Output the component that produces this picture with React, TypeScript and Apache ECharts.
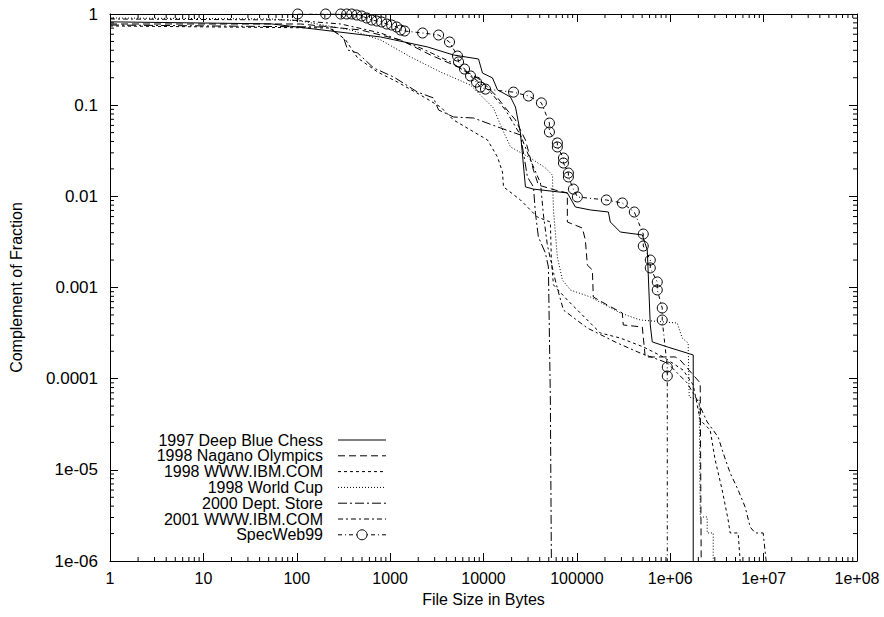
import React, { useEffect, useRef } from "react";
import * as echarts from "echarts";

const FONT = "'Liberation Sans', Arial, Helvetica, sans-serif";

const seriesNames = [
  "1997 Deep Blue Chess",
  "1998 Nagano Olympics",
  "1998 WWW.IBM.COM",
  "1998 World Cup",
  "2000 Dept. Store",
  "2001 WWW.IBM.COM",
  "SpecWeb99",
];

const xTickLabels = ["1", "10", "100", "1000", "10000", "100000", "1e+06", "1e+07", "1e+08"];
const yTickLabels = ["1e-06", "1e-05", "0.0001", "0.001", "0.01", "0.1", "1"];

const deepBlueX = [1, 52.7, 791, 2518, 4777, 8846, 9753, 12480, 14120, 19450, 21990, 24870, 28130, 34270, 79070, 96400, 139400, 217300, 228000, 291800, 502000, 567500, 611200, 641700, 929500, 1762000, 1762000];
const deepBlueY = [0.82, 0.78, 0.56, 0.435, 0.355, 0.321, 0.225, 0.199, 0.147, 0.123, 0.0955, 0.0495, 0.0127, 0.012, 0.0109, 0.00764, 0.00709, 0.00673, 0.00523, 0.00406, 0.00377, 0.00258, 0.000388, 0.000253, 0.000223, 0.000182, 0.000001];

const naganoX = [1, 110, 483, 1295, 2712, 5675, 9290, 13430, 17180, 21990, 24870, 28130, 34270, 38730, 58880, 79070, 79070, 114500, 123300, 129500, 146500, 150000, 211800, 306800, 314200, 502000, 539500, 1130000, 1279000, 2094000, 2145000];
const naganoY = [0.777, 0.777, 0.668, 0.519, 0.355, 0.256, 0.189, 0.129, 0.0931, 0.0688, 0.0534, 0.0415, 0.0194, 0.0133, 0.0117, 0.0109, 0.00523, 0.00449, 0.00332, 0.00176, 0.00156, 0.000787, 0.000643, 0.000525, 0.000388, 0.000369, 0.000173, 0.000173, 0.00016, 0.0000896, 0.000001];

const ibm98X = [1, 231, 334, 449, 735, 1202, 2119, 3467, 4777, 7261, 11040, 14120, 15960, 16370, 24870, 37760, 52000, 53330, 56100, 79070, 178200, 291800, 514000, 841400, 1377000, 1762000, 2094000, 2677000, 3028000, 3597000, 4170000, 4381000, 5333000, 5605000];
const ibm98Y = [0.739, 0.702, 0.519, 0.329, 0.231, 0.179, 0.129, 0.0955, 0.0688, 0.0534, 0.0415, 0.027, 0.0185, 0.0127, 0.00912, 0.00593, 0.00523, 0.002, 0.00107, 0.000729, 0.000317, 0.000279, 0.000223, 0.000173, 0.000124, 0.0000852, 0.0000352, 0.0000273, 0.0000128, 0.00000601, 0.00000282, 0.00000203, 0.00000203, 0.000001];

const worldCupX = [1, 52.7, 110, 378, 791, 1656, 3467, 7261, 12790, 15200, 19450, 31840, 46020, 54700, 56100, 61800, 69980, 85310, 139400, 291800, 477500, 1188000, 1343000, 1556000, 1596000, 2042000, 2094000, 2486000, 2486000, 2884000, 2884000];
const worldCupY = [0.904, 0.882, 0.838, 0.668, 0.519, 0.338, 0.231, 0.166, 0.0931, 0.0606, 0.0348, 0.0263, 0.0205, 0.0171, 0.00708, 0.00216, 0.00121, 0.000939, 0.000787, 0.000525, 0.00044, 0.000408, 0.000279, 0.000246, 0.0000629, 0.0000583, 0.00000304, 0.00000304, 0.00000203, 0.00000203, 0.000001];

const deptStoreX = [1, 214, 318, 351, 449, 666, 1089, 1968, 2918, 3304, 4777, 7816, 15200, 24870, 29560, 34270, 35980, 38730, 46020, 49550, 52000, 53330];
const deptStoreY = [0.757, 0.72, 0.545, 0.403, 0.373, 0.256, 0.204, 0.139, 0.12, 0.0885, 0.0742, 0.0723, 0.0562, 0.0471, 0.0163, 0.0127, 0.00657, 0.00358, 0.00239, 0.00168, 0.0000583, 0.000001];

const ibm01X = [1, 86.3, 296, 791, 2119, 4436, 7261, 11880, 17180, 24870, 31840, 40740, 43850, 48310, 54700, 60390, 71750, 129500, 271000, 477500, 929500, 1520000, 1944000, 2486000, 3261000, 3687000, 4381000, 5333000, 6339000, 7178000, 8110000, 9886000, 10640000];
const ibm01Y = [0.882, 0.86, 0.777, 0.619, 0.424, 0.298, 0.214, 0.139, 0.0885, 0.0471, 0.025, 0.014, 0.00624, 0.00292, 0.00164, 0.00107, 0.000566, 0.000359, 0.000246, 0.000191, 0.000149, 0.0000896, 0.0000583, 0.0000335, 0.0000229, 0.0000153, 0.00000923, 0.00000601, 0.00000391, 0.00000236, 0.00000203, 0.00000203, 0.000001];

const specWebX = [102.5, 204, 296, 343, 388, 438, 496, 561, 634, 718, 811, 918, 1038, 1175, 1295, 1429, 2228, 3304, 4327, 5268, 5403, 6268, 7268, 8420, 9290, 10500, 20950, 30300, 41700, 50800, 50800, 61800, 61800, 71800, 71800, 81100, 81100, 91800, 101200, 207000, 306900, 412300, 514000, 514000, 611200, 611200, 726100, 726100, 820500, 820500, 929500, 929500, 929500];
const specWebY = [1, 1, 1, 1, 1, 0.975, 0.951, 0.904, 0.859, 0.838, 0.817, 0.777, 0.757, 0.72, 0.667, 0.651, 0.619, 0.588, 0.493, 0.346, 0.298, 0.249, 0.209, 0.179, 0.158, 0.15, 0.139, 0.126, 0.106, 0.0637, 0.0508, 0.0385, 0.0348, 0.0263, 0.0232, 0.018, 0.0163, 0.012, 0.00984, 0.00912, 0.00845, 0.00673, 0.00386, 0.00285, 0.002, 0.00164, 0.00115, 0.00094, 0.000596, 0.00044, 0.000134, 0.000107, 0.000001];

const seriesX = [deepBlueX, naganoX, ibm98X, worldCupX, deptStoreX, ibm01X, specWebX];
const seriesY = [deepBlueY, naganoY, ibm98Y, worldCupY, deptStoreY, ibm01Y, specWebY];

const dashes: any[] = ["solid", [7, 4], [3, 3], [1, 2], [9, 3, 2, 3], [5, 3, 2, 3], [4, 3, 1, 3]];

const X_MIN = 1, X_MAX = 1e8, Y_MIN = 1e-6, Y_MAX = 1;
const minorMultipliers = [2, 3, 4, 5, 6, 7, 8, 9];

export default function App() {
  const ref = useRef<HTMLDivElement>(null);
  useEffect(() => {
    if (!ref.current) return;
    const chart = echarts.init(ref.current, undefined, { renderer: "svg" });

    const xMinor: number[][] = [];
    for (let k = 0; k < 8; k++) for (const m of minorMultipliers) xMinor.push([m * Math.pow(10, k), 1]);
    const yMinor: number[][] = [];
    for (let k = -6; k < 0; k++) for (const m of minorMultipliers) yMinor.push([1, m * Math.pow(10, k)]);

    const lineSeries = seriesNames.map((name, si) => {
      const xs = seriesX[si], ys = seriesY[si];
      const isSpec = si === 6;
      const data = xs.map((x, i) =>
        isSpec && i === xs.length - 1 ? { value: [x, ys[i]], symbol: "none" } : [x, ys[i]]
      );
      return {
        name,
        type: "line",
        data,
        symbol: isSpec ? "circle" : "none",
        symbolSize: 10,
        showSymbol: isSpec,
        itemStyle: { color: "rgba(0,0,0,0)", borderColor: "#000", borderWidth: 1 },
        lineStyle: { color: "#000", width: 1, type: dashes[si] },
        silent: true,
        z: 3,
      };
    });

    const tickLen = 4;
    const minorX = {
      type: "custom",
      silent: true,
      data: xMinor,
      encode: { x: 0, y: 1 },
      clip: false,
      renderItem: (params: any, api: any) => {
        const v = api.value(0);
        const t = api.coord([v, Y_MAX]);
        const b = api.coord([v, Y_MIN]);
        return {
          type: "group",
          children: [
            { type: "line", shape: { x1: t[0], y1: t[1], x2: t[0], y2: t[1] + tickLen }, style: { stroke: "#000", lineWidth: 1 } },
            { type: "line", shape: { x1: b[0], y1: b[1], x2: b[0], y2: b[1] - tickLen }, style: { stroke: "#000", lineWidth: 1 } },
          ],
        };
      },
    };
    const minorY = {
      type: "custom",
      silent: true,
      data: yMinor,
      encode: { x: 0, y: 1 },
      clip: false,
      renderItem: (params: any, api: any) => {
        const v = api.value(1);
        const l = api.coord([X_MIN, v]);
        const r = api.coord([X_MAX, v]);
        return {
          type: "group",
          children: [
            { type: "line", shape: { x1: l[0], y1: l[1], x2: l[0] + tickLen, y2: l[1] }, style: { stroke: "#000", lineWidth: 1 } },
            { type: "line", shape: { x1: r[0], y1: r[1], x2: r[0] - tickLen, y2: r[1] }, style: { stroke: "#000", lineWidth: 1 } },
          ],
        };
      },
    };

    // legend drawn manually (text left, line sample right)
    const legendTop = 440, legendStep = 15.8;
    const legendGraphics: any[] = [];
    seriesNames.forEach((name, i) => {
      const y = legendTop + i * legendStep;
      legendGraphics.push({
        type: "text",
        x: 323,
        y,
        style: { text: name, align: "right", verticalAlign: "middle", fontSize: 16, lineHeight: 15, fontFamily: FONT, fill: "#000" },
      });
      const d = dashes[i];
      legendGraphics.push({
        type: "line",
        shape: { x1: 338, y1: y, x2: 386, y2: y },
        style: { stroke: "#000", lineWidth: 1, lineDash: d === "solid" ? null : d },
      });
      if (i === 6) {
        legendGraphics.push({
          type: "circle",
          shape: { cx: 362, cy: y, r: 5 },
          style: { stroke: "#000", fill: "#fff", lineWidth: 1 },
        });
      }
    });

    const axisCommon = {
      type: "log",
      logBase: 10,
      axisLine: { show: true, lineStyle: { color: "#000", width: 1 } },
      axisTick: { show: true, inside: true, length: 8, lineStyle: { color: "#000", width: 1 } },
      splitLine: { show: false },
      minorTick: { show: false },
    };

    chart.setOption({
      animation: false,
      backgroundColor: "#fff",
      textStyle: { fontFamily: FONT },
      grid: { left: 109, top: 14, right: 27, bottom: 56, containLabel: false },
      graphic: legendGraphics,
      xAxis: [
        {
          ...axisCommon,
          min: X_MIN,
          max: X_MAX,
          position: "bottom",
          name: "File Size in Bytes",
          nameLocation: "middle",
          nameGap: 30,
          nameTextStyle: { fontSize: 16, color: "#000", fontFamily: FONT },
          axisLabel: {
            fontSize: 16,
            color: "#000",
            fontFamily: FONT,
            margin: 9,
            formatter: (v: number) => xTickLabels[Math.round(Math.log10(v))] ?? "",
          },
        },
        {
          ...axisCommon,
          min: X_MIN,
          max: X_MAX,
          position: "top",
          axisLabel: { show: false },
        },
      ],
      yAxis: [
        {
          ...axisCommon,
          min: Y_MIN,
          max: Y_MAX,
          position: "left",
          name: "Complement of Fraction",
          nameLocation: "middle",
          nameGap: 86,
          nameRotate: 90,
          nameTextStyle: { fontSize: 16, color: "#000", fontFamily: FONT },
          axisLabel: {
            fontSize: 17,
            color: "#000",
            fontFamily: FONT,
            margin: 12,
            formatter: (v: number) => yTickLabels[Math.round(Math.log10(v)) + 6] ?? "",
          },
        },
        {
          ...axisCommon,
          min: Y_MIN,
          max: Y_MAX,
          position: "right",
          axisLabel: { show: false },
        },
      ],
      series: [...lineSeries, minorX, minorY],
    });
    return () => chart.dispose();
  }, []);
  return (
    <div
      ref={ref}
      style={{ position: "fixed", left: 0, top: 0, width: 884, height: 617, background: "#fff" }}
    />
  );
}
